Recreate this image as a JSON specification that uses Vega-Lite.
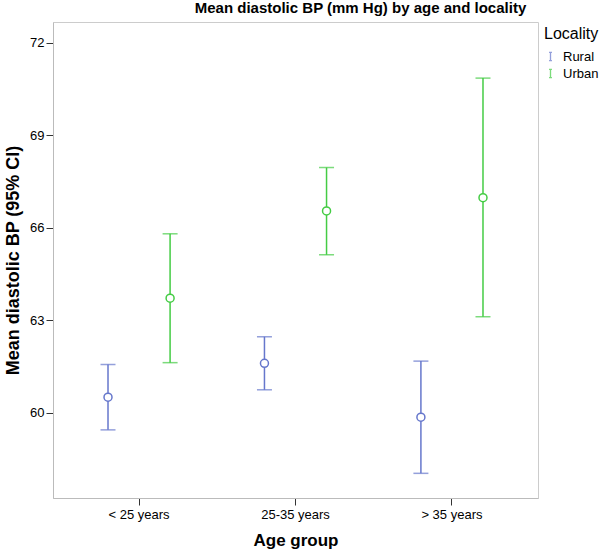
{
  "$schema": "https://vega.github.io/schema/vega-lite/v6.json",
  "autosize": "none",
  "width": 485,
  "height": 476,
  "padding": {"left": 53, "top": 22, "right": 62, "bottom": 56},
  "background": "white",
  "title": {
    "text": "Mean diastolic BP (mm Hg) by age and locality",
    "font": "Liberation Sans",
    "fontSize": 15,
    "fontWeight": "bold",
    "color": "#000000",
    "anchor": "middle",
    "dx": 65,
    "offset": 6
  },
  "data": {
    "values": [
      {"age": "< 25 years", "loc": "Rural", "mean": 60.51, "lo": 59.45, "hi": 61.57},
      {"age": "< 25 years", "loc": "Urban", "mean": 63.72, "lo": 61.63, "hi": 65.81},
      {"age": "25-35 years", "loc": "Rural", "mean": 61.61, "lo": 60.75, "hi": 62.47},
      {"age": "25-35 years", "loc": "Urban", "mean": 66.55, "lo": 65.13, "hi": 67.96},
      {"age": "> 35 years", "loc": "Rural", "mean": 59.86, "lo": 58.04, "hi": 61.68},
      {"age": "> 35 years", "loc": "Urban", "mean": 66.98, "lo": 63.12, "hi": 70.86}
    ]
  },
  "encoding": {
    "x": {
      "field": "age",
      "type": "nominal",
      "sort": ["< 25 years", "25-35 years", "> 35 years"],
      "scale": {"paddingInner": 0, "paddingOuter": 0.05},
      "axis": {
        "title": "Age group",
        "labelAngle": 0,
        "labelFont": "Liberation Sans",
        "labelFontSize": 13,
        "labelColor": "#000000",
        "labelPadding": 3,
        "tickSize": 7,
        "tickColor": "#333333",
        "domainColor": "#bbbbbb",
        "titleFont": "Liberation Sans",
        "titleFontSize": 17,
        "titleFontWeight": "bold",
        "titleColor": "#000000",
        "titlePadding": 11
      }
    },
    "xOffset": {
      "field": "loc",
      "type": "nominal",
      "scale": {"paddingInner": 0, "paddingOuter": 0.26}
    },
    "color": {
      "field": "loc",
      "type": "nominal",
      "scale": {"domain": ["Rural", "Urban"], "range": ["#6677cc", "#44cc44"]},
      "legend": {
        "title": "Locality",
        "orient": "none",
        "legendX": 491,
        "legendY": 4,
        "titleFont": "Liberation Sans",
        "titleFontSize": 16,
        "titleFontWeight": "normal",
        "titleColor": "#000000",
        "labelFont": "Liberation Sans",
        "labelFontSize": 13,
        "labelColor": "#000000",
        "labelOffset": 6,
        "symbolType": "M-0.35,-1H0.35M0,-1V1M-0.35,1H0.35",
        "symbolSize": 70,
        "symbolStrokeWidth": 1.3,
        "symbolFillColor": "transparent",
        "rowPadding": 2,
        "titlePadding": 8
      }
    }
  },
  "layer": [
    {
      "mark": {"type": "rule", "strokeWidth": 1.5},
      "encoding": {
        "y": {
          "field": "lo",
          "type": "quantitative",
          "scale": {"domain": [57.24, 72.68], "nice": false, "zero": false},
          "axis": {
            "title": "Mean diastolic BP (95% CI)",
            "values": [60, 63, 66, 69, 72],
            "grid": false,
            "labelFont": "Liberation Sans",
            "labelFontSize": 13,
            "labelColor": "#000000",
            "labelPadding": 2,
            "tickSize": 7,
            "tickColor": "#333333",
            "domainColor": "#bbbbbb",
            "titleFont": "Liberation Sans",
            "titleFontSize": 18,
            "titleFontWeight": "bold",
            "titleColor": "#000000",
            "titlePadding": 7
          }
        },
        "y2": {"field": "hi"}
      }
    },
    {
      "mark": {"type": "tick", "size": 15, "thickness": 1.5},
      "encoding": {"y": {"field": "lo", "type": "quantitative"}}
    },
    {
      "mark": {"type": "tick", "size": 15, "thickness": 1.5},
      "encoding": {"y": {"field": "hi", "type": "quantitative"}}
    },
    {
      "mark": {"type": "point", "filled": false, "size": 64, "strokeWidth": 1.5, "opacity": 1, "fill": "white"},
      "encoding": {"y": {"field": "mean", "type": "quantitative"}}
    }
  ],
  "config": {
    "view": {"stroke": "#cccccc"},
    "axis": {"grid": false}
  }
}
